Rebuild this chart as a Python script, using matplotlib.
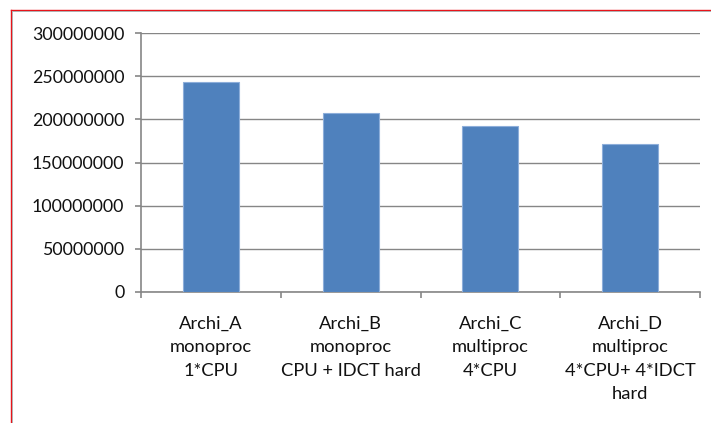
import matplotlib
matplotlib.use("Agg")
import matplotlib.pyplot as plt
from matplotlib.lines import Line2D
from matplotlib.ticker import FixedLocator, MultipleLocator, FuncFormatter

# Data
categories = [
    "Archi_A\nmonoproc\n1*CPU",
    "Archi_B\nmonoproc\nCPU + IDCT hard",
    "Archi_C\nmultiproc\n4*CPU",
    "Archi_D\nmultiproc\n4*CPU+ 4*IDCT\nhard",
]
cycles = [243800000, 207800000, 192700000, 171400000]

plt.rcParams["font.family"] = ["Lato", "DejaVu Sans"]

W, H = 711, 423
fig = plt.figure(figsize=(W / 100, H / 100), dpi=100)
fig.patch.set_facecolor("white")

ax = fig.add_axes([141 / W, 1 - 292 / H, (700 - 141) / W, (292 - 33) / H])

grid_color = "#868686"
bar_color = "#4F81BD"
text_color = "#111111"

x = list(range(len(categories)))
ax.bar(x, cycles, width=0.4, color=bar_color, edgecolor="#8DAEDA",
       linewidth=0.8, zorder=3)

ax.set_xlim(-0.5, len(categories) - 0.5)
ax.set_ylim(0, 300000000)
ax.yaxis.set_major_locator(MultipleLocator(50000000))
ax.yaxis.set_major_formatter(FuncFormatter(lambda v, p: f"{int(v)}"))

ax.grid(axis="y", color=grid_color, linewidth=1.0, zorder=0)
ax.set_axisbelow(True)

for side in ("top", "right"):
    ax.spines[side].set_visible(False)
for side in ("left", "bottom"):
    ax.spines[side].set_color(grid_color)
    ax.spines[side].set_linewidth(1.2)

# Category labels centred under the bars, tick marks at category boundaries
ax.set_xticks(x)
ax.set_xticklabels(categories, fontsize=13.2, linespacing=1.58, color=text_color)
ax.tick_params(axis="x", which="major", length=0, pad=17)
ax.xaxis.set_minor_locator(FixedLocator([i - 0.5 for i in range(len(categories) + 1)]))
ax.tick_params(axis="x", which="minor", length=4, width=1.2, color=grid_color,
               direction="out")

ax.tick_params(axis="y", which="major", length=4, width=1.2, color=grid_color,
               labelsize=12.8, labelcolor=text_color, pad=8)

# Frame lines along the top and left of the chart area
fig.add_artist(Line2D([10.8 / W, 10.8 / W], [0, 1 - 9.6 / H], transform=fig.transFigure,
                      color="#e8141a", linewidth=1.0))
fig.add_artist(Line2D([10.8 / W, 1], [1 - 9.6 / H, 1 - 9.6 / H], transform=fig.transFigure,
                      color="#e8141a", linewidth=1.0))
fig.add_artist(Line2D([12.3 / W, 12.3 / W], [0, 1 - 11.2 / H], transform=fig.transFigure,
                      color="#b0b0b0", linewidth=0.7))
fig.add_artist(Line2D([12.3 / W, 1], [1 - 11.2 / H, 1 - 11.2 / H], transform=fig.transFigure,
                      color="#b0b0b0", linewidth=0.7))

fig.savefig("out.png", dpi=100, facecolor="white")
